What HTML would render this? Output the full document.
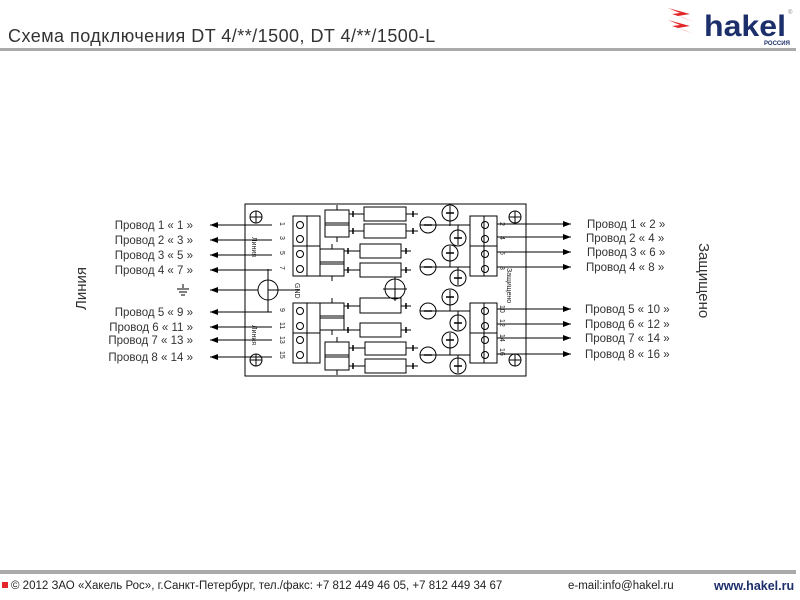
<!DOCTYPE html>
<html><head><meta charset="utf-8"><style>
body{margin:0;width:800px;height:600px;background:#fff;overflow:hidden;position:relative;font-family:"Liberation Sans",sans-serif}
</style></head><body>
<svg width="800" height="600" xmlns="http://www.w3.org/2000/svg" style="position:absolute;left:0;top:0">
<defs>
<marker id="a" markerWidth="8" markerHeight="6" refX="8" refY="3" orient="auto" markerUnits="userSpaceOnUse"><path d="M0,0 L8,3 L0,6 Z" fill="#000"/></marker>
</defs>
<text x="8" y="42" font-size="18" fill="#333" font-family="Liberation Sans" letter-spacing="0.8" textLength="428">Схема подключения DT 4/**/1500, DT 4/**/1500-L</text>
<rect x="0" y="48" width="796" height="3" fill="#aaa"/>
<!-- logo -->
<g fill="#e3262a">
<polygon points="668,8 690,14 678,16 694,22 684,18 672,14 680,13"/>
<polygon points="668,20 690,26 678,28 694,34 684,30 672,26 680,25"/>
</g>
<text x="704" y="36" font-size="30" font-weight="bold" fill="#1c2f6b" font-family="Liberation Sans" textLength="82" lengthAdjust="spacingAndGlyphs">hakel</text>
<text x="764" y="45" font-size="6" font-weight="bold" fill="#1c2f6b">РОССИЯ</text>
<text x="788" y="14" font-size="6" fill="#888">®</text>

<g stroke="#000" fill="none" stroke-width="1">
<rect x="245" y="204" width="281" height="172"/>
<g>
<circle cx="256" cy="217" r="6"/><path d="M250,217h12M256,211v12"/>
<circle cx="515" cy="217" r="6"/><path d="M509,217h12M515,211v12"/>
<circle cx="256" cy="360" r="6"/><path d="M250,360h12M256,354v12"/>
<circle cx="515" cy="360" r="6"/><path d="M509,360h12M515,354v12"/>
<circle cx="395" cy="289" r="10"/><path d="M383,289h24M395,277v24"/>
<circle cx="268" cy="290" r="10"/>
</g>
<rect x="293" y="216" width="27" height="60"/><line x1="307" y1="216" x2="307" y2="276"/><line x1="293" y1="246" x2="320" y2="246"/>
<rect x="293" y="303" width="27" height="60"/><line x1="307" y1="303" x2="307" y2="363"/><line x1="293" y1="333" x2="320" y2="333"/>
<rect x="470" y="216" width="27" height="60"/><line x1="484" y1="216" x2="484" y2="276"/><line x1="470" y1="246" x2="497" y2="246"/>
<rect x="470" y="303" width="27" height="60"/><line x1="484" y1="303" x2="484" y2="363"/><line x1="470" y1="333" x2="497" y2="333"/>
<g>
<circle cx="300" cy="225" r="3.5"/><circle cx="300" cy="239" r="3.5"/><circle cx="300" cy="254" r="3.5"/><circle cx="300" cy="269" r="3.5"/>
<circle cx="300" cy="311" r="3.5"/><circle cx="300" cy="326" r="3.5"/><circle cx="300" cy="340" r="3.5"/><circle cx="300" cy="355" r="3.5"/>
<circle cx="485" cy="225" r="3.5"/><circle cx="485" cy="239" r="3.5"/><circle cx="485" cy="254" r="3.5"/><circle cx="485" cy="269" r="3.5"/>
<circle cx="485" cy="311" r="3.5"/><circle cx="485" cy="326" r="3.5"/><circle cx="485" cy="340" r="3.5"/><circle cx="485" cy="355" r="3.5"/>
</g>
<rect x="325" y="210" width="24" height="27"/><line x1="325" y1="223" x2="349" y2="223"/><line x1="325" y1="225" x2="349" y2="225"/>
<rect x="320" y="249" width="24" height="27"/><line x1="320" y1="262" x2="344" y2="262"/><line x1="320" y1="264" x2="344" y2="264"/>
<rect x="320" y="303" width="24" height="27"/><line x1="320" y1="316" x2="344" y2="316"/><line x1="320" y1="318" x2="344" y2="318"/>
<rect x="325" y="342" width="24" height="28"/><line x1="325" y1="355" x2="349" y2="355"/><line x1="325" y1="357" x2="349" y2="357"/>
<path d="M337,205v5M337,237v5M332,244v5M332,276v5M332,298v5M332,330v5M337,337v5M337,370v5"/>
<rect x="364" y="207" width="42" height="14"/><rect x="364" y="224" width="42" height="14"/>
<rect x="360" y="244" width="41" height="14"/><rect x="360" y="263" width="41" height="14"/>
<rect x="360" y="298" width="41" height="15"/><rect x="360" y="323" width="41" height="14"/>
<rect x="365" y="342" width="41" height="13"/><rect x="365" y="359" width="41" height="14"/>
<path d="M349,214h15M406,214h12M349,231h15M406,231h12M344,251h16M401,251h10M344,270h16M401,270h10M344,306h16M401,306h10M344,330h16M401,330h10M349,348h16M406,348h12M349,366h16M406,366h12"/>
<path d="M353,211v6M413,211v6M353,228v6M413,228v6M348,248v6M406,248v6M348,267v6M406,267v6M348,303v6M406,303v6M348,327v6M406,327v6M353,345v6M413,345v6M353,363v6M413,363v6" stroke-width="1.5"/>
<g>
<circle cx="450" cy="213" r="8"/><circle cx="428" cy="225" r="8"/><circle cx="458" cy="238" r="8"/>
<circle cx="450" cy="253" r="8"/><circle cx="428" cy="267" r="8"/><circle cx="458" cy="278" r="8"/>
<circle cx="450" cy="297" r="8"/><circle cx="428" cy="311" r="8"/><circle cx="458" cy="323" r="8"/>
<circle cx="450" cy="340" r="8"/><circle cx="428" cy="355" r="8"/><circle cx="458" cy="366" r="8"/>
<path d="M420,225h50M450,206v20M458,225v20M420,267h50M450,246v21M458,267v18M420,311h50M450,290v21M458,311v19M420,355h50M450,333v22M458,355v18"/>
<path d="M446,213h8M424,225h8M454,238h8M446,253h8M424,267h8M454,278h8M446,297h8M424,311h8M454,323h8M446,340h8M424,355h8M454,366h8" stroke-width="1.5"/>
</g>
<line x1="268" y1="269" x2="268" y2="312"/>
<line x1="268" y1="290" x2="300" y2="290"/>
</g>
<g stroke="#000" stroke-width="1" marker-end="url(#a)">
<line x1="272" y1="225" x2="210" y2="225"/><line x1="272" y1="240" x2="210" y2="240"/>
<line x1="272" y1="255" x2="210" y2="255"/><line x1="272" y1="270" x2="210" y2="270"/>
<line x1="258" y1="290" x2="210" y2="290"/>
<line x1="272" y1="312" x2="210" y2="312"/><line x1="272" y1="327" x2="210" y2="327"/>
<line x1="272" y1="340" x2="210" y2="340"/><line x1="272" y1="357" x2="210" y2="357"/>
<line x1="497" y1="224" x2="571" y2="224"/><line x1="497" y1="237" x2="571" y2="237"/>
<line x1="497" y1="252" x2="571" y2="252"/><line x1="497" y1="267" x2="571" y2="267"/>
<line x1="497" y1="309" x2="571" y2="309"/><line x1="497" y1="324" x2="571" y2="324"/>
<line x1="497" y1="338" x2="571" y2="338"/><line x1="497" y1="354" x2="571" y2="354"/>
</g>
<path d="M183,284v4M177,289h12M179,292h8M181,295h4" stroke="#000" fill="none"/>
<g font-size="11.5" fill="#333" text-anchor="end">
<text x="193" y="229">Провод 1 « 1 »</text><text x="193" y="244">Провод 2 « 3 »</text>
<text x="193" y="259">Провод 3 « 5 »</text><text x="193" y="274">Провод 4 « 7 »</text>
<text x="193" y="316">Провод 5 « 9 »</text><text x="193" y="331">Провод 6 « 11 »</text>
<text x="193" y="344">Провод 7 « 13 »</text><text x="193" y="361">Провод 8 « 14 »</text>
</g>
<g font-size="11.5" fill="#333">
<text x="587" y="228">Провод 1 « 2 »</text><text x="586" y="242">Провод 2 « 4 »</text>
<text x="587" y="256">Провод 3 « 6 »</text><text x="586" y="271">Провод 4 « 8 »</text>
<text x="585" y="313">Провод 5 « 10 »</text><text x="585" y="328">Провод 6 « 12 »</text>
<text x="585" y="342">Провод 7 « 14 »</text><text x="585" y="358">Провод 8 « 16 »</text>
</g>
<g font-size="7" fill="#222">
<g transform="rotate(90)">
<text x="222" y="-280">1</text><text x="236" y="-280">3</text><text x="251" y="-280">5</text><text x="266" y="-280">7</text>
<text x="308" y="-280">9</text><text x="322" y="-280">11</text><text x="336" y="-280">13</text><text x="351" y="-280">15</text>
<text x="222" y="-500">2</text><text x="236" y="-500">4</text><text x="251" y="-500">6</text><text x="266" y="-500">8</text>
<text x="305" y="-500">10</text><text x="319" y="-500">12</text><text x="334" y="-500">14</text><text x="348" y="-500">16</text>
<text x="237" y="-252">Линия</text><text x="325" y="-252">Линия</text>
<text x="283" y="-295">GND</text><text x="268" y="-507">Защищено</text>
</g>
</g>
<text transform="translate(86,310) rotate(-90)" font-size="15" fill="#333">Линия</text>
<text transform="translate(699,243) rotate(90)" font-size="15" fill="#333">Защищено</text>

<rect x="0" y="570" width="796" height="4" fill="#aaa"/>
<rect x="2" y="582" width="6" height="6" fill="#e3262a"/>
<text x="11" y="589" font-size="11.5" fill="#222">© 2012 ЗАО «Хакель Рос», г.Санкт-Петербург, тел./факс: +7 812 449 46 05, +7 812 449 34 67</text>
<text x="568" y="589" font-size="11.5" fill="#222">e-mail:info@hakel.ru</text>
<text x="714" y="590" font-size="12.5" font-weight="bold" fill="#1c2f6b">www.hakel.ru</text>
</svg>
</body></html>
